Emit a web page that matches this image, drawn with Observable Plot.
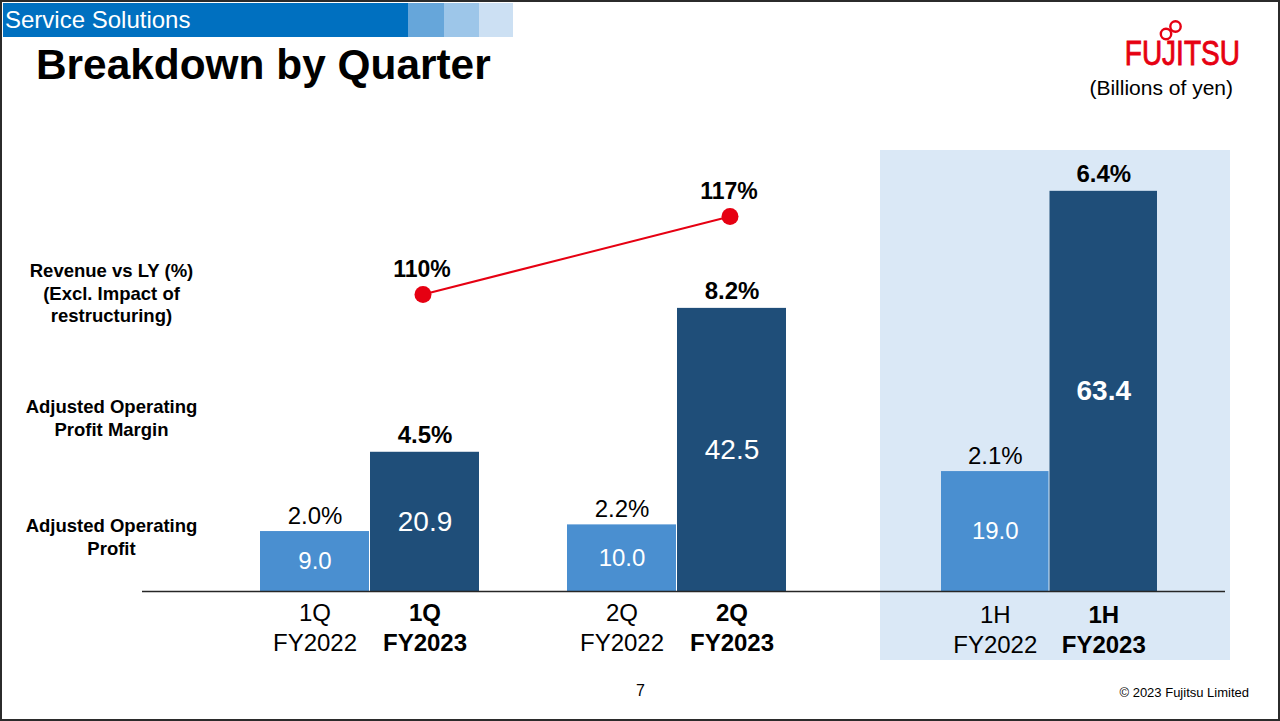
<!DOCTYPE html>
<html>
<head>
<meta charset="utf-8">
<script src="https://cdn.jsdelivr.net/npm/d3@7"></script>
<script src="https://cdn.jsdelivr.net/npm/@observablehq/plot@0.6"></script>
<style>
  html, body { margin: 0; padding: 0; background: #fff; }
  #slide { position: relative; width: 1280px; height: 721px; overflow: hidden; background: #fff;
           font-family: "Liberation Sans", Arial, sans-serif; color: #000; }
  .abs { position: absolute; }
  .rowlabel { position: absolute; left: 1px; width: 221px; text-align: center; font-weight: bold;
              font-size: 18.5px; line-height: 22.5px; }
  #border { position: absolute; left: 0; top: 0; width: 1280px; height: 721px; box-sizing: border-box;
            border: 2px solid #2b2b2b; pointer-events: none; z-index: 50; }
</style>
</head>
<body>
<div id="slide">
  <div class="abs" style="left:3px;top:3px;width:405px;height:34px;background:#0070c0;"></div>
  <div class="abs" style="left:408px;top:3px;width:36px;height:34px;background:#66a6da;"></div>
  <div class="abs" style="left:444px;top:3px;width:35px;height:34px;background:#9dc6e9;"></div>
  <div class="abs" style="left:479px;top:3px;width:34px;height:34px;background:#cce0f3;"></div>
  <div class="abs" style="left:5px;top:3px;height:34px;line-height:34px;font-size:24px;color:#fff;">Service Solutions</div>
  <div class="abs" style="left:36px;top:44px;font-size:42.4px;line-height:42px;font-weight:bold;">Breakdown by Quarter</div>

  <svg class="abs" style="left:1155px;top:18px;" width="36" height="26" viewBox="0 0 36 26">
    <circle cx="20.5" cy="8.5" r="5.2" fill="none" stroke="#e60012" stroke-width="2.4"/>
    <circle cx="11" cy="16" r="5.2" fill="none" stroke="#e60012" stroke-width="2.4"/>
  </svg>
  <div class="abs" style="right:40px;top:35px;font-size:35px;line-height:35px;color:#e60012;transform:scaleX(0.8);transform-origin:right center;-webkit-text-stroke:0.9px #e60012;">FUJITSU</div>
  <div class="abs" style="right:47px;top:77px;font-size:21px;line-height:21px;">(Billions of yen)</div>

  <div class="rowlabel" style="top:260px;">Revenue vs LY (%)<br>(Excl. Impact of<br>restructuring)</div>
  <div class="rowlabel" style="top:396px;">Adjusted Operating<br>Profit Margin</div>
  <div class="rowlabel" style="top:515px;">Adjusted Operating<br>Profit</div>

  <div id="plotA" class="abs" style="left:142px;top:130px;"></div>
  <div id="plotB" class="abs" style="left:880px;top:150px;"></div>
  <div id="plotL" class="abs" style="left:142px;top:130px;"></div>

  <div class="abs" style="left:636px;top:683px;font-size:16px;line-height:16px;">7</div>
  <div class="abs" style="right:31px;top:686px;font-size:13px;line-height:13px;">© 2023 Fujitsu Limited</div>
  <div id="border"></div>
</div>
<script>
// ---- Data ----
const periods = ["1Q", "2Q"];
const halfPeriods = ["1H"];
const fiscalYears = ["FY2022", "FY2023"];
const profitFY2022 = [9.0, 10.0];
const profitFY2023 = [20.9, 42.5];
const marginFY2022 = [2.0, 2.2];
const marginFY2023 = [4.5, 8.2];
const revenueVsLY = [110, 117];
const halfProfitFY2022 = [19.0];
const halfProfitFY2023 = [63.4];
const halfMarginFY2022 = [2.1];
const halfMarginFY2023 = [6.4];

const C22 = "#4a8fd0";
const C23 = "#1f4e79";
const RED = "#e60012";
const FONT = "Liberation Sans, Arial, sans-serif";

function rows(ps, profits, margins, year) {
  return ps.map((p, i) => ({period: p, year, profit: profits[i], margin: margins[i]}));
}

const q22 = rows(periods, profitFY2022, marginFY2022, fiscalYears[0]);
const q23 = rows(periods, profitFY2023, marginFY2023, fiscalYears[1]);
const h22 = rows(halfPeriods, halfProfitFY2022, halfMarginFY2022, fiscalYears[0]);
const h23 = rows(halfPeriods, halfProfitFY2023, halfMarginFY2023, fiscalYears[1]);
const rev = periods.map((p, i) => ({period: p, rev: revenueVsLY[i]}));

function groupMarks(d22, d23, half, boldValue23, labelDy) {
  const o = half / 2;
  return [
    Plot.barY(d22, {x: "period", y: "profit", fill: C22, insetRight: half}),
    Plot.barY(d23, {x: "period", y: "profit", fill: C23, insetLeft: half}),
    Plot.ruleY([0], {stroke: "#262626", strokeWidth: 1.5}),
    Plot.text(d22, {x: "period", y: d => d.profit / 2, text: d => d.profit.toFixed(1), dx: -o,
      fill: "white", fontSize: 24}),
    Plot.text(d23, {x: "period", y: d => d.profit / 2, text: d => d.profit.toFixed(1), dx: o,
      fill: "white", fontSize: 28, fontWeight: boldValue23 ? "bold" : "normal"}),
    Plot.text(d22, {x: "period", y: "profit", text: d => d.margin.toFixed(1) + "%", dx: -o, dy: -8,
      lineAnchor: "bottom", fontSize: 24, fill: "black"}),
    Plot.text(d23, {x: "period", y: "profit", text: d => d.margin.toFixed(1) + "%", dx: o, dy: -9,
      lineAnchor: "bottom", fontSize: 24, fontWeight: "bold", fill: "black"}),
    Plot.text(d22, {x: "period", frameAnchor: "bottom", text: d => d.period + "\n" + d.year, dx: -o, dy: labelDy,
      lineAnchor: "top", lineHeight: 1.22, fontSize: 24, fill: "black"}),
    Plot.text(d23, {x: "period", frameAnchor: "bottom", text: d => d.period + "\n" + d.year, dx: o, dy: labelDy,
      lineAnchor: "top", lineHeight: 1.22, fontSize: 24, fontWeight: "bold", fill: "black"})
  ];
}

const xQuarter = {type: "band", domain: periods, paddingInner: 0.2857, paddingOuter: 0.341, align: 0.557, axis: null};

const plotA = Plot.plot({
  width: 738, height: 560,
  marginLeft: 0, marginRight: 0, marginTop: 20, marginBottom: 99,
  x: xQuarter,
  y: {domain: [0, 66.2], axis: null},
  style: {background: "transparent", fontFamily: FONT, overflow: "visible"},
  marks: groupMarks(q22, q23, 110, false, 9)
});
document.getElementById("plotA").appendChild(plotA);

const plotB = Plot.plot({
  width: 350, height: 510,
  marginLeft: 0, marginRight: 5, marginTop: 20, marginBottom: 69,
  x: {type: "band", domain: halfPeriods, paddingInner: 0, paddingOuter: 0.295, align: 0.469, axis: null},
  y: {domain: [0, 66.7], axis: null},
  style: {background: "#dae8f6", fontFamily: FONT, overflow: "visible"},
  marks: groupMarks(h22, h23, 108.5, true, 11)
});
document.getElementById("plotB").appendChild(plotB);

const plotL = Plot.plot({
  width: 738, height: 560,
  marginLeft: 0, marginRight: 0, marginTop: 86, marginBottom: 396,
  x: xQuarter,
  y: {domain: [110, 117], axis: null},
  style: {background: "transparent", fontFamily: FONT, overflow: "visible"},
  marks: [
    Plot.line(rev, {x: "period", y: "rev", dx: 53, stroke: RED, strokeWidth: 2}),
    Plot.dot(rev, {x: "period", y: "rev", dx: 53, r: 8.5, fill: RED}),
    Plot.text(rev, {x: "period", y: "rev", dx: 52, dy: -18, text: d => d.rev + "%", lineAnchor: "bottom",
      fontSize: 23, fontWeight: "bold", fill: "black"})
  ]
});
document.getElementById("plotL").appendChild(plotL);
</script>
</body>
</html>
